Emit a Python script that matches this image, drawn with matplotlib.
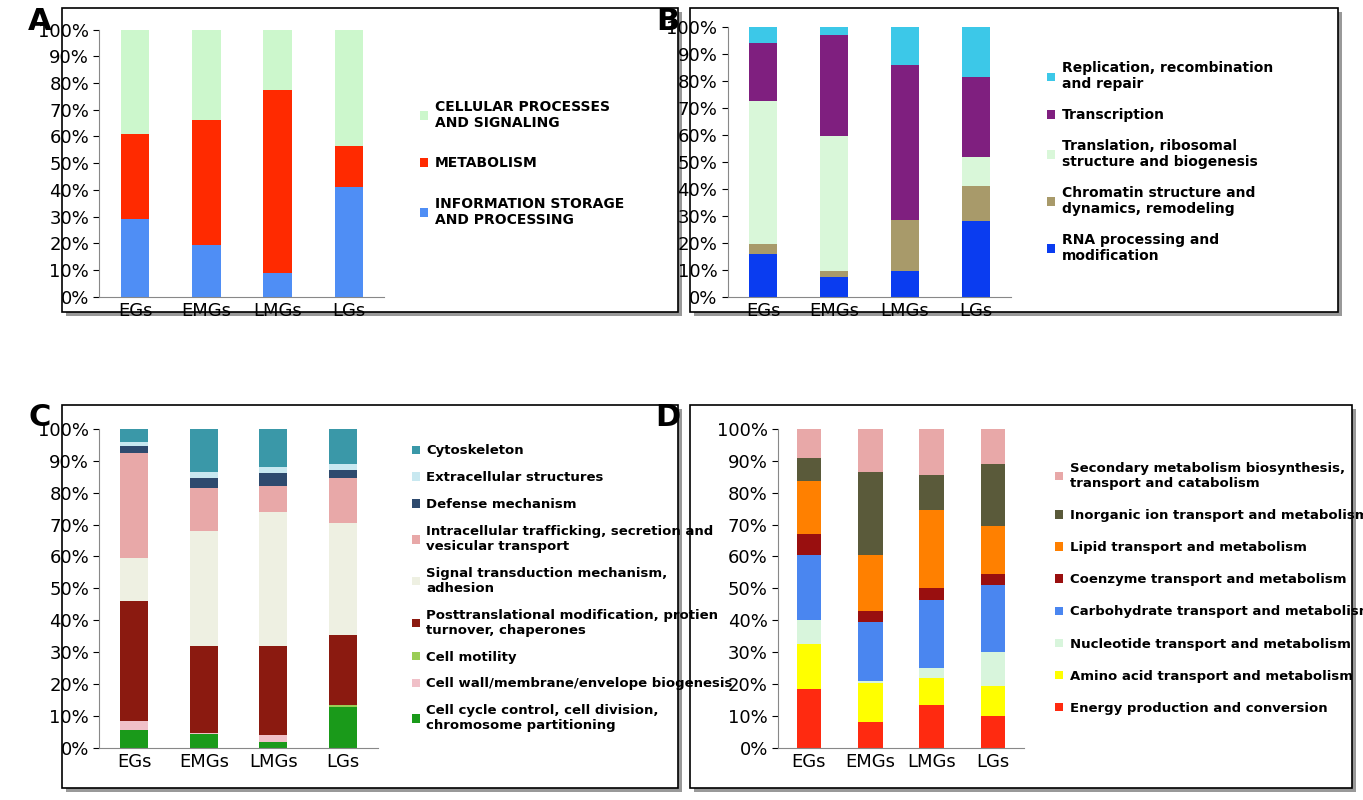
import matplotlib
matplotlib.use("Agg")
import matplotlib.pyplot as plt
from matplotlib.patches import Rectangle, Patch
from matplotlib.ticker import PercentFormatter
import numpy as np

groups = ["EGs", "EMGs", "LMGs", "LGs"]

a_labels = ["INFORMATION STORAGE\nAND PROCESSING", "METABOLISM", "CELLULAR PROCESSES\nAND SIGNALING"]
a_colors = ["#4f8ef5", "#ff2a00", "#ccf7cc"]
a_vals = [[29, 19.5, 9, 41], [32, 46.5, 68.5, 15.5], [39, 34, 22.5, 43.5]]

b_labels = ["RNA processing and\nmodification", "Chromatin structure and\ndynamics, remodeling",
            "Translation, ribosomal\nstructure and biogenesis", "Transcription",
            "Replication, recombination\nand repair"]
b_colors = ["#0a3cf0", "#a89a6a", "#d9f7d9", "#7f1f7f", "#3cc8e8"]
b_vals = [[16, 7.5, 9.5, 28], [3.5, 2, 19, 13], [53, 50, 0, 11],
          [21.5, 37.5, 57.5, 29.5], [6, 3, 14, 18.5]]

c_labels = ["Cell cycle control, cell division,\nchromosome partitioning",
            "Cell wall/membrane/envelope biogenesis", "Cell motility",
            "Posttranslational modification, protien\nturnover, chaperones",
            "Signal transduction mechanism,\nadhesion",
            "Intracellular trafficking, secretion and\nvesicular transport",
            "Defense mechanism", "Extracellular structures", "Cytoskeleton"]
c_colors = ["#1a9a1a", "#f0c0c8", "#9acd55", "#8b1a10", "#eef0e2", "#e8a8a8",
            "#2e4a6e", "#c8e8f0", "#3a98a8"]
c_vals = [[5.5, 4.5, 2, 13], [3, 0.3, 2, 0], [0, 0, 0, 0.5], [37.5, 27.2, 28, 22],
          [13.5, 36, 42, 35], [33, 13.5, 8, 14], [2, 3, 4, 2.5], [1.5, 2, 2, 2],
          [4, 13.5, 12, 11]]

d_labels = ["Energy production and conversion", "Amino acid transport and metabolism",
            "Nucleotide transport and metabolism", "Carbohydrate transport and metabolism",
            "Coenzyme transport and metabolism", "Lipid transport and metabolism",
            "Inorganic ion transport and metabolism",
            "Secondary metabolism biosynthesis,\ntransport and catabolism"]
d_colors = ["#ff2a10", "#ffff00", "#d8f5dc", "#4a86f0", "#990f0f", "#ff8000",
            "#5a5a3a", "#e8a8a8"]
d_vals = [[18.5, 8, 13.5, 10], [14, 12.5, 8.5, 9.5], [7.5, 0.5, 3, 10.5],
          [20.5, 18.5, 21.5, 21], [6.5, 3.5, 3.5, 3.5], [16.5, 17.5, 24.5, 15],
          [7.5, 26, 11, 19.5], [9, 13.5, 14.5, 11]]

fig = plt.figure(figsize=(13.63, 8), dpi=100)
W, H = 1363, 800
bg = fig.add_axes([0, 0, 1, 1], zorder=-10)
bg.set_xlim(0, W)
bg.set_ylim(H, 0)
bg.axis("off")

def frame(x0, y0, x1, y1):
    bg.add_patch(Rectangle((x0 + 4, y0 + 4), x1 - x0, y1 - y0, facecolor="#999999", edgecolor="none"))
    bg.add_patch(Rectangle((x0, y0), x1 - x0, y1 - y0, facecolor="white", edgecolor="black", lw=1.2))

frame(62, 8, 678, 312)
frame(690, 8, 1338, 312)
frame(62, 405, 678, 788)
frame(690, 405, 1352, 788)

def panel(rect, labels, colors, vals, fs, lspace, legx):
    ax = fig.add_axes(rect)
    ax.patch.set_alpha(0)
    x = np.arange(len(groups))
    bottom = np.zeros(len(groups))
    handles = []
    for lab, col, v in zip(labels, colors, vals):
        ax.bar(x, v, 0.4, bottom=bottom, color=col, edgecolor="none")
        bottom += np.array(v)
        handles.append(Patch(facecolor=col, label=lab))
    ax.set_ylim(0, 100)
    ax.set_xlim(-0.5, 3.5)
    ax.set_yticks(range(0, 101, 10))
    ax.yaxis.set_major_formatter(PercentFormatter(decimals=0))
    ax.set_xticks(x)
    ax.set_xticklabels(groups)
    ax.tick_params(labelsize=13, length=0)
    ax.tick_params(axis="y", length=4, direction="out")
    for s in ["top", "right"]:
        ax.spines[s].set_visible(False)
    ax.spines["left"].set_color("#888888")
    ax.spines["bottom"].set_color("#888888")
    ax.legend(handles=handles[::-1], loc="center left", bbox_to_anchor=(legx, 0.5),
              frameon=False, prop={"weight": "bold", "size": fs}, labelspacing=lspace,
              handlelength=0.6, handleheight=0.6, handletextpad=0.5)
    return ax

panel([0.073, 0.629, 0.209, 0.334], a_labels, a_colors, a_vals, 10, 1.9, 1.08)
panel([0.534, 0.629, 0.208, 0.337], b_labels, b_colors, b_vals, 10, 1.2, 1.08)
panel([0.073, 0.065, 0.204, 0.399], c_labels, c_colors, c_vals, 9.5, 1.05, 1.08)
panel([0.571, 0.065, 0.180, 0.399], d_labels, d_colors, d_vals, 9.5, 1.45, 1.08)

for t, (px, py) in zip("ABCD", [(40, 22), (668, 22), (40, 418), (668, 418)]):
    fig.text(px / W, 1 - py / H, t, fontsize=22, fontweight="bold", ha="center", va="center")

fig.savefig("out.png", dpi=100)
